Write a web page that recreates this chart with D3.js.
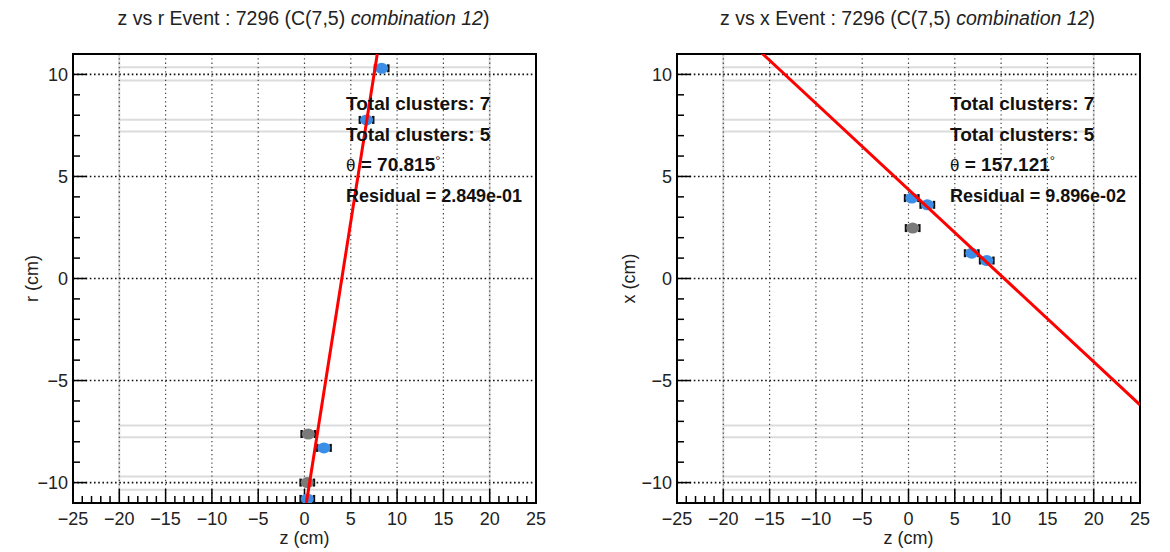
<!DOCTYPE html>
<html>
<head>
<meta charset="utf-8">
<script src="https://cdn.jsdelivr.net/npm/d3@7"></script>
<style>
  html, body { margin: 0; padding: 0; background: #fff; }
  svg { display: block; font-family: "Liberation Sans", Arial, Helvetica, sans-serif; }
</style>
</head>
<body>
<svg id="chart" width="1170" height="552"></svg>
<script>
// ---- data ----
const eventId = 7296;
const totalClusters = 7;
const usedClusters = 5;
const combination = 12;

// axis ticks
const zTicks = [-25, -20, -15, -10, -5, 0, 5, 10, 15, 20, 25];
const yTicks = [-10, -5, 0, 5, 10];

// detector layer boundaries (cm) and half-length (cm)
const layerRadii = [7.2, 7.78, 9.7, 10.35];
const layerHalfLength = 20;

// z vs r clusters
const zrUsedZ = [8.33, 6.7, 2.1, 0.3];
const zrUsedR = [10.3, 7.77, -8.3, -10.8];
const zrOtherZ = [0.41, 0.3];
const zrOtherR = [-7.62, -10.0];

// z vs x clusters
const zxUsedZ = [0.35, 2.03, 6.83, 8.45];
const zxUsedX = [3.94, 3.61, 1.24, 0.88];
const zxOtherZ = [0.45];
const zxOtherX = [2.47];

const zError = 0.72;

// fit results: angle (deg), z at zero crossing (cm), residual
const zrTheta = 70.815, zrZ0 = 4.03, zrResidual = "2.849e-01";
const zxTheta = 157.121, zxZ0 = 10.33, zxResidual = "9.896e-02";

// ---- drawing ----
const svg = d3.select("#chart");
const yTop = 54, yBot = 503;
const blue = "#3a8ee8", grey = "#7a7a7a";
const minus = s => String(s).replace("-", "\u2212");

function panel(opt) {
  const x = d3.scaleLinear().domain([-25, 25]).range([opt.x0, opt.x1]);
  const y = d3.scaleLinear().domain([-11, 11]).range([yBot, yTop]);
  const g = svg.append("g");
  const clipId = "clip" + opt.id;
  svg.append("clipPath").attr("id", clipId)
    .append("rect").attr("x", opt.x0).attr("y", yTop)
    .attr("width", opt.x1 - opt.x0).attr("height", yBot - yTop);

  // title
  const t = g.append("text").attr("x", (opt.x0 + opt.x1) / 2 -1).attr("y", 25)
    .attr("text-anchor", "middle").attr("font-size", 19.5).attr("fill", "#222");
  t.append("tspan").text(`${opt.name} Event : ${eventId} (C(${totalClusters},${usedClusters}) `);
  t.append("tspan").attr("font-style", "italic").text(`combination ${combination}`);
  t.append("tspan").text(")");

  // detector outline
  const det = g.append("g").attr("clip-path", `url(#${clipId})`)
    .attr("stroke", "#dcdcdc").attr("stroke-width", 2).attr("fill", "none");
  [-layerHalfLength, layerHalfLength].forEach(zv =>
    det.append("line").attr("x1", x(zv)).attr("x2", x(zv)).attr("y1", yTop).attr("y2", yBot));
  layerRadii.forEach(rv => [rv, -rv].forEach(v =>
    det.append("line").attr("x1", x(-layerHalfLength)).attr("x2", x(layerHalfLength))
      .attr("y1", y(v)).attr("y2", y(v))));

  // grid
  const grid = g.append("g").attr("fill", "none");
  zTicks.filter(v => v > -25 && v < 25).forEach(v =>
    grid.append("line").attr("x1", x(v)).attr("x2", x(v)).attr("y1", yTop).attr("y2", yBot)
      .attr("stroke", "#444").attr("stroke-width", 1.2).attr("stroke-dasharray", "1.3,3"));
  yTicks.forEach(v =>
    grid.append("line").attr("x1", opt.x0).attr("x2", opt.x1).attr("y1", y(v)).attr("y2", y(v))
      .attr("stroke", "#111").attr("stroke-width", 1.6).attr("stroke-dasharray", "1.6,2.6"));

  // axes: major ticks every 5, minor every 1
  const ax = g.append("g");
  d3.range(-25, 26, 1).forEach(v => {
    const major = v % 5 === 0;
    ax.append("line").attr("x1", x(v)).attr("x2", x(v))
      .attr("y1", yBot).attr("y2", yBot - (major ? 14 : 7))
      .attr("stroke", "#000").attr("stroke-width", 1.5);
  });
  d3.range(-11, 12, 1).forEach(v => {
    const major = v % 5 === 0;
    ax.append("line").attr("y1", y(v)).attr("y2", y(v))
      .attr("x1", opt.x0).attr("x2", opt.x0 + (major ? 14 : 7))
      .attr("stroke", "#000").attr("stroke-width", 1.5);
  });
  zTicks.forEach(v =>
    ax.append("text").attr("x", x(v)).attr("y", 525).attr("text-anchor", "middle")
      .attr("font-size", 18).attr("fill", "#222").text(minus(v)));
  yTicks.forEach(v =>
    ax.append("text").attr("x", opt.x0 - 5).attr("y", y(v) + 6.5).attr("text-anchor", "end")
      .attr("font-size", 18).attr("fill", "#222").text(minus(v)));
  ax.append("text").attr("x", (opt.x0 + opt.x1) / 2).attr("y", 544).attr("text-anchor", "middle")
    .attr("font-size", 18).attr("fill", "#222").text("z (cm)");
  ax.append("text").attr("transform", `translate(${opt.ylabX},${y(0)}) rotate(-90)`)
    .attr("text-anchor", "middle").attr("font-size", 18).attr("fill", "#222").text(opt.yLabel);

  // frame
  g.append("rect").attr("x", opt.x0).attr("y", yTop).attr("width", opt.x1 - opt.x0)
    .attr("height", yBot - yTop).attr("fill", "none").attr("stroke", "#000").attr("stroke-width", 2);

  // clusters
  const pts = g.append("g").attr("clip-path", `url(#${clipId})`);
  function drawPoints(zs, vs, color) {
    zs.forEach((zv, i) => {
      const cx = x(zv), cy = y(vs[i]);
      const xl = x(zv - zError), xr = x(zv + zError);
      pts.append("line").attr("x1", xl).attr("x2", xr).attr("y1", cy).attr("y2", cy)
        .attr("stroke", "#000").attr("stroke-width", 1.5);
      [xl, xr].forEach(xe => pts.append("line").attr("x1", xe).attr("x2", xe)
        .attr("y1", cy - 4).attr("y2", cy + 4).attr("stroke", "#111").attr("stroke-width", 2.5));
      pts.append("ellipse").attr("cx", cx).attr("cy", cy).attr("rx", 6.5).attr("ry", 5.5)
        .attr("fill", color);
    });
  }
  drawPoints(opt.otherZ, opt.otherV, grey);
  drawPoints(opt.usedZ, opt.usedV, blue);

  // fitted track
  const slope = Math.tan(opt.theta * Math.PI / 180);
  if (Math.abs(slope) > 1) {
    // steep: parametrise by the vertical coordinate
    const vs = [-11, 11];
    pts.append("line").attr("x1", x(opt.z0 + vs[0] / slope)).attr("y1", y(vs[0]))
      .attr("x2", x(opt.z0 + vs[1] / slope)).attr("y2", y(vs[1]))
      .attr("stroke", "#f00").attr("stroke-width", 3);
  } else {
    const zs = [-25, 25];
    pts.append("line").attr("x1", x(zs[0])).attr("y1", y(slope * (zs[0] - opt.z0)))
      .attr("x2", x(zs[1])).attr("y2", y(slope * (zs[1] - opt.z0)))
      .attr("stroke", "#f00").attr("stroke-width", 3);
  }

  // fit summary
  const info = g.append("g").attr("font-size", 19).attr("font-weight", "bold").attr("fill", "#111");
  const tx = opt.x0 + 273;
  info.append("text").attr("x", tx).attr("y", 110).text(`Total clusters: ${totalClusters}`);
  info.append("text").attr("x", tx).attr("y", 141).text(`Total clusters: ${usedClusters}`);
  const th = info.append("text").attr("x", tx).attr("y", 171);
  th.append("tspan").attr("font-weight", "normal").attr("font-size", 17).text("\u03b8");
  th.append("tspan").text(` = ${opt.theta.toFixed(3)}`);
  th.append("tspan").attr("font-weight", "normal").attr("font-size", 13).attr("dy", -6).text("\u00b0");
  info.append("text").attr("x", tx).attr("y", 202).attr("textLength", 176)
    .attr("lengthAdjust", "spacingAndGlyphs").text(`Residual = ${opt.residual}`);
}

panel({ id: "zr", name: "z vs r", x0: 73, x1: 536, ylabX: 38, yLabel: "r (cm)",
  usedZ: zrUsedZ, usedV: zrUsedR, otherZ: zrOtherZ, otherV: zrOtherR,
  theta: zrTheta, z0: zrZ0, residual: zrResidual });
panel({ id: "zx", name: "z vs x", x0: 677, x1: 1140, ylabX: 635, yLabel: "x (cm)",
  usedZ: zxUsedZ, usedV: zxUsedX, otherZ: zxOtherZ, otherV: zxOtherX,
  theta: zxTheta, z0: zxZ0, residual: zxResidual });
</script>
</body>
</html>
